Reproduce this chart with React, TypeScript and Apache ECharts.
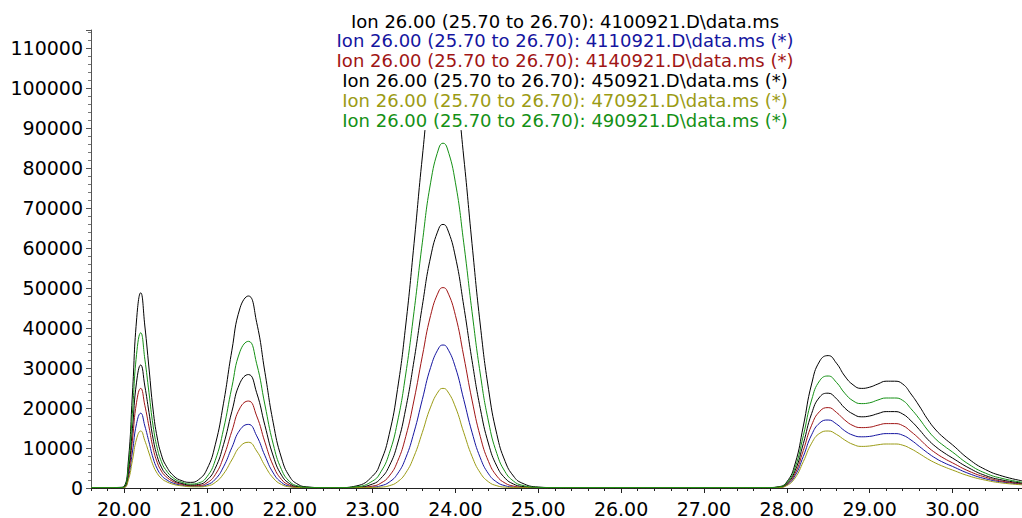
import React, { useEffect, useRef } from "react";
import * as echarts from "echarts";

// retention times (min)
const times = [
  19.6, 19.8, 19.95,
  20.0, 20.05, 20.1, 20.15, 20.2, 20.25, 20.3, 20.35, 20.4, 20.45, 20.5,
  20.6, 20.7,
  20.8, 20.9, 21.0, 21.1, 21.2, 21.3, 21.4, 21.5, 21.6, 21.7, 21.8, 21.9, 22.0, 22.1, 22.2,
  22.4, 22.6,
  22.8, 23.0, 23.1, 23.2, 23.3, 23.4, 23.5, 23.6, 23.7, 23.8, 23.85, 23.9, 24.0, 24.1, 24.2, 24.3, 24.4, 24.5, 24.6, 24.7, 24.8, 25.0,
  25.2, 25.5, 26.0, 27.0, 27.7, 27.8,
  27.9, 28.0, 28.1, 28.2, 28.3, 28.4, 28.5, 28.6, 28.7, 28.8, 28.9, 29.0, 29.1, 29.2, 29.3, 29.4, 29.5, 29.6, 29.7, 29.8, 29.9, 30.0,
  30.2, 30.4, 30.6, 30.84,
];

const black4100921 = [
  100, 100, 150,
  400, 6500, 23500, 42000, 48800, 40500, 30000, 19500, 12500, 8300, 5800,
  3000, 1800,
  1410, 2100, 4700, 10800, 21200, 34300, 45050, 48000, 41400, 28900, 16300, 7500, 2800, 900, 300,
  100, 100,
  500, 3000, 6650, 13400, 24600, 40750, 61100, 82750, 101300, 112100, 113500, 112100, 101300, 82750, 61100, 40750, 24600, 13400, 6650, 3000, 1270, 240,
  100, 100, 100, 100, 100, 120,
  300, 1500, 6000, 15500, 26000, 31800, 33100, 31200, 28000, 25800, 24900, 25200, 26000, 26700, 26700, 26000, 23500, 20500, 17200, 14500, 12500, 10800,
  7200, 4600, 3000, 1800,
];

const blue4110921 = [
  100, 100, 100,
  150, 2490, 9000, 16090, 18700, 15510, 11490, 7470, 4790, 3180, 2220,
  1150, 690,
  420, 420, 800, 2170, 5290, 10080, 14570, 15900, 13040, 8070, 3770, 1380, 430, 160, 110,
  100, 100,
  100, 230, 560, 1460, 3530, 7550, 13940, 22120, 30130, 35060, 35750, 35060, 30130, 22120, 13940, 7550, 3530, 1460, 560, 230, 130, 100,
  100, 100, 100, 100, 100, 100,
  150, 770, 3070, 7900, 13300, 16300, 17000, 16000, 14300, 13200, 12800, 12900, 13300, 13600, 13600, 13200, 12000, 10400, 8800, 7400, 6300, 5400,
  3600, 2300, 1500, 950,
];

const red4140921 = [
  100, 100, 110,
  200, 3300, 11990, 21420, 24900, 20660, 15300, 9950, 6380, 4230, 2960,
  1530, 920,
  580, 620, 1270, 3330, 7740, 14170, 20050, 21740, 18020, 11450, 5600, 2140, 680, 220, 120,
  100, 100,
  130, 480, 1220, 2980, 6590, 12860, 21990, 32950, 43130, 49260, 50100, 49260, 43130, 32950, 21990, 12860, 6590, 2980, 1220, 480, 210, 100,
  100, 100, 100, 100, 100, 100,
  180, 900, 3600, 9400, 15700, 19200, 20100, 18900, 17000, 15600, 15100, 15200, 15700, 16100, 16100, 15600, 14100, 12300, 10300, 8700, 7400, 6300,
  4200, 2700, 1700, 1100,
];

const black450921 = [
  100, 100, 120,
  250, 4100, 14800, 26460, 30750, 25500, 18900, 12290, 7880, 5230, 3650,
  1890, 1130,
  750, 890, 1940, 4920, 10850, 19070, 26310, 28360, 23810, 15610, 8000, 3220, 1070, 330, 140,
  100, 100,
  190, 1000, 2430, 5450, 11000, 19870, 31900, 45550, 57750, 64920, 65900, 64920, 57750, 45550, 31900, 19870, 11000, 5450, 2430, 1000, 410, 130,
  100, 100, 100, 100, 100, 110,
  210, 1070, 4300, 11100, 18600, 22800, 23700, 22300, 20000, 18500, 17800, 18000, 18600, 19100, 19100, 18500, 16800, 14600, 12200, 10300, 8800, 7500,
  5000, 3100, 2000, 1250,
];

const olive470921 = [
  100, 100, 100,
  120, 1900, 6860, 12260, 14250, 11830, 8760, 5690, 3650, 2420, 1690,
  880, 530,
  320, 290, 500, 1380, 3530, 7010, 10380, 11430, 9250, 5550, 2490, 870, 280, 130, 100,
  100, 100,
  100, 130, 220, 560, 1530, 3770, 7920, 13890, 20230, 24320, 24900, 24320, 20230, 13890, 7920, 3770, 1530, 560, 220, 130, 100, 100,
  100, 100, 100, 100, 100, 100,
  120, 600, 2500, 6600, 11200, 13700, 14250, 13400, 12000, 10900, 10400, 10500, 10800, 11000, 11000, 10700, 9800, 8600, 7300, 6200, 5300, 4500,
  3000, 1950, 1250, 800,
];

const green490921 = [
  100, 100, 130,
  320, 5200, 18700, 33400, 38800, 32200, 23850, 15500, 9940, 6600, 4610,
  2390, 1430,
  980, 1270, 2810, 6910, 14700, 25150, 34180, 36670, 31070, 20760, 10970, 4610, 1570, 480, 180,
  100, 100,
  300, 1740, 4050, 8600, 16500, 28500, 44100, 61300, 76300, 85000, 86200, 85000, 76300, 61300, 44100, 28500, 16500, 8600, 4050, 1740, 710, 160,
  100, 100, 100, 100, 100, 110,
  250, 1270, 5070, 13100, 22000, 26900, 28000, 26400, 23700, 21800, 21100, 21300, 22000, 22500, 22500, 21900, 19800, 17300, 14500, 12200, 10500, 9000,
  5900, 3700, 2400, 1450,
];

const seriesNames = [
  "Ion 26.00 (25.70 to 26.70): 4100921.D\\data.ms",
  "Ion 26.00 (25.70 to 26.70): 4110921.D\\data.ms (*)",
  "Ion 26.00 (25.70 to 26.70): 4140921.D\\data.ms (*)",
  "Ion 26.00 (25.70 to 26.70): 450921.D\\data.ms (*)",
  "Ion 26.00 (25.70 to 26.70): 470921.D\\data.ms (*)",
  "Ion 26.00 (25.70 to 26.70): 490921.D\\data.ms (*)",
];
const seriesValues = [black4100921, blue4110921, red4140921, black450921, olive470921, green490921];
const seriesColors = ["#000000", "#1515a0", "#a01515", "#000000", "#9b9b15", "#159015"];

const xMin = 19.6;
const xMax = 30.84;
const yMin = 0;
const yMax = 114500;
const yStep = 10000;

export default function App() {
  const ref = useRef<HTMLDivElement>(null);
  useEffect(() => {
    if (!ref.current) return;
    const chart = echarts.init(ref.current, null, { renderer: "svg" });
    const font = "DejaVu Sans";
    const option: any = {
      animation: false,
      backgroundColor: "#ffffff",
      grid: { left: 91, right: 0, top: 30, bottom: 30 },
      xAxis: [
        {
          type: "value",
          min: xMin,
          max: xMax,
          splitNumber: 11,
          minInterval: 1,
          maxInterval: 1,
          axisLine: { show: true, onZero: false, lineStyle: { color: "#222", width: 1 } },
          axisTick: { show: true, length: 5, lineStyle: { color: "#222" } },
          axisLabel: {
            show: true,
            formatter: (v: number) => v.toFixed(2),
            showMinLabel: false,
            showMaxLabel: false,
            color: "#000",
            fontFamily: font,
            fontSize: 19,
            margin: 11,
          },
          splitLine: { show: false },
        },
        {
          type: "value",
          min: xMin,
          max: xMax,
          interval: 0.2,
          position: "bottom",
          axisLine: { show: false, onZero: false },
          axisTick: { show: true, length: 3, lineStyle: { color: "#222" } },
          axisLabel: { show: false },
          splitLine: { show: false },
        },
      ],
      yAxis: {
        type: "value",
        min: yMin,
        max: yMax,
        interval: yStep,
        axisLine: { show: true, lineStyle: { color: "#555", width: 1 } },
        axisTick: { show: true, length: 5, lineStyle: { color: "#555" } },
        minorTick: { show: true, splitNumber: 5, length: 3, lineStyle: { color: "#777" } },
        axisLabel: {
          show: true,
          showMaxLabel: false,
          formatter: (v: number) => String(Math.round(v)),
          color: "#000",
          fontFamily: font,
          fontSize: 19,
          margin: 8,
        },
        splitLine: { show: false },
      },
      series: seriesValues.map((vals, i) => ({
        type: "line",
        name: seriesNames[i],
        xAxisIndex: 0,
        data: times.map((t, k) => [t, vals[k]]),
        showSymbol: false,
        smooth: 0.5,
        lineStyle: { color: seriesColors[i], width: 1 },
        itemStyle: { color: seriesColors[i] },
        z: 2 + i,
      })),
      graphic: [
        {
          type: "rect",
          z: 100,
          shape: { x: 335, y: 4, width: 465, height: 126 },
          style: { fill: "#ffffff" },
        },
        ...seriesNames.map((n, i) => ({
          type: "text",
          z: 101,
          x: 565,
          y: 21 + i * 19.8,
          style: {
            text: n,
            fill: seriesColors[i],
            fontFamily: font,
            fontSize: 18,
            textAlign: "center",
            textVerticalAlign: "middle",
          },
        })),
      ],
    };
    chart.setOption(option);
    return () => chart.dispose();
  }, []);
  return (
    <div
      ref={ref}
      style={{ position: "fixed", left: 0, top: 0, width: 1022, height: 518, background: "#fff" }}
    />
  );
}
